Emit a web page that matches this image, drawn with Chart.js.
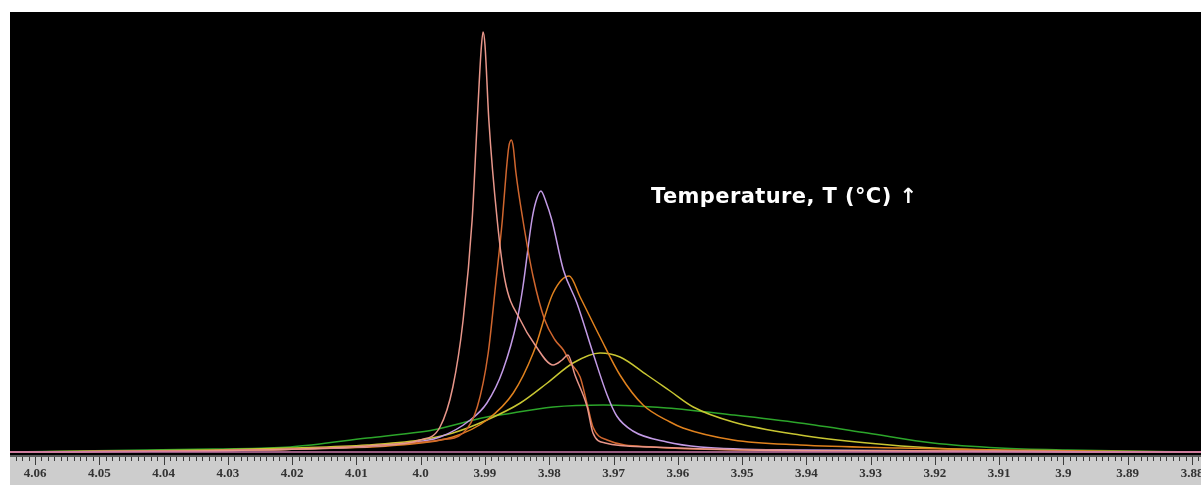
<!DOCTYPE html>
<html>
<head>
<meta charset="utf-8">
<script src="https://cdn.jsdelivr.net/npm/chart.js@4.4.1/dist/chart.umd.min.js"></script>
<style>
  html, body { margin: 0; padding: 0; background: #fff; }
  #wrap { width: 1201px; height: 485px; }
</style>
</head>
<body>
<div id="wrap"><canvas id="nmrChart" width="1201" height="485"></canvas></div>
<script>
// chemical shift axis (ppm), as printed under the spectrum
const tickLabels = ['4.06', '4.05', '4.04', '4.03', '4.02', '4.01', '4.0', '3.99', '3.98', '3.97',
                    '3.96', '3.95', '3.94', '3.93', '3.92', '3.91', '3.9', '3.89', '3.88'];
const ppmMin = 3.8786;
const ppmMax = 4.0639;

const annotation = 'Temperature, T (°C) \u2191';

// spectra at rising temperature (intensity in arbitrary units)
const ppm1 = [4.0639, 4.0188, 4.0063, 4.0001, 3.9970, 3.9950, 3.9934, 3.9920, 3.9912, 3.9906, 3.9903, 3.9900, 3.9894, 3.9881,
              3.9869, 3.9845, 3.9822, 3.9794, 3.9780, 3.9771, 3.9760, 3.9741, 3.9732, 3.9713, 3.9643, 3.9488, 3.9254, 3.8786];
const int1 = [0, 3, 7, 12, 25, 65, 132, 232, 332, 402, 420, 407, 332, 232,
              172, 132, 107, 87, 92, 97, 77, 45, 19, 9, 5, 2, 1, 0];

const ppm2 = [4.0639, 4.0188, 4.0032, 3.9970, 3.9934, 3.9912, 3.9895, 3.9883, 3.9873, 3.9867, 3.9863, 3.9859, 3.9856, 3.9852,
              3.9841, 3.9825, 3.9807, 3.9791, 3.9778, 3.9768, 3.9752, 3.9740, 3.9732, 3.9710, 3.9639, 3.9488, 3.9254, 3.8786];
const int2 = [0, 3, 8, 12, 19, 45, 99, 170, 232, 280, 305, 312, 305, 280,
              232, 175, 132, 112, 102, 90, 75, 45, 25, 12, 5, 2, 1, 0];

const ppm3 = [4.0639, 4.0188, 4.0032, 3.9970, 3.9923, 3.9897, 3.9872, 3.9850, 3.9841, 3.9827, 3.9821, 3.9813, 3.9805,
              3.9796, 3.9778, 3.9757, 3.9732, 3.9710, 3.9695, 3.9670, 3.9617, 3.9565, 3.9410, 3.8786];
const int3 = [0, 3, 8, 15, 32, 49, 82, 132, 165, 232, 250, 261, 250,
              232, 182, 149, 99, 57, 36, 21, 10, 5, 2, 0];

const ppm4 = [4.0639, 4.0188, 4.0032, 3.9950, 3.9897, 3.9856, 3.9825, 3.9794, 3.9769, 3.9752,
              3.9721, 3.9690, 3.9654, 3.9612, 3.9592, 3.9514, 3.9410, 3.9254, 3.9099, 3.8786];
const int4 = [0, 3, 7, 15, 32, 59, 99, 159, 176, 155,
              115, 77, 47, 30, 24, 12, 7, 4, 2, 0];

const ppm5 = [4.0639, 4.0323, 4.0203, 4.0083, 4.0001, 3.9950, 3.9897, 3.9845, 3.9803, 3.9763, 3.9721,
              3.9690, 3.9648, 3.9612, 3.9576, 3.9514, 3.9410, 3.9305, 3.9203, 3.9047, 3.8786];
const int5 = [0, 2, 4, 7, 12, 19, 32, 49, 69, 89, 99,
              95, 77, 61, 45, 30, 17, 9, 4, 1, 0];

const ppm6 = [4.0639, 4.0323, 4.0203, 4.0083, 4.0001, 3.9981, 3.9897, 3.9877, 3.9794, 3.9716,
              3.9617, 3.9514, 3.9410, 3.9305, 3.9203, 3.9099, 3.8994, 3.8786];
const int6 = [0, 3, 5, 14, 20, 22, 35, 37, 45, 47,
              44, 37, 29, 19, 9, 4, 2, 0];

// flat baseline trace
const ppm0 = [4.0639, 3.8786];
const int0 = [0, 0];

const colors = ['#c878aa', '#e8968a', '#d0662e', '#c39be6', '#e0821e', '#c8c632', '#2ca52a'];

function toPoints(xs, ys) {
  return xs.map((x, i) => ({ x: x, y: ys[i] }));
}

// black plot field, grey ruler, ruler tick marks and the temperature note
const spectrumFrame = {
  id: 'spectrumFrame',
  beforeDraw(chart) {
    const { ctx, chartArea: a, width, height } = chart;
    ctx.save();
    ctx.fillStyle = '#ffffff';
    ctx.fillRect(0, 0, width, height);
    ctx.fillStyle = '#000000';
    ctx.fillRect(a.left, a.top, a.right - a.left, a.bottom - a.top);
    ctx.fillStyle = '#cdcdcd';
    ctx.fillRect(a.left, a.bottom, a.right - a.left, height - a.bottom);
    ctx.fillStyle = '#5a5a5a';
    ctx.fillRect(a.left, a.bottom, a.right - a.left, 2);
    ctx.restore();
  },
  afterDraw(chart) {
    const { ctx, chartArea: a } = chart;
    const x = chart.scales.x;
    ctx.save();
    ctx.strokeStyle = '#3c3c3c';
    ctx.lineWidth = 1;
    ctx.beginPath();
    for (let k = Math.ceil(x.min * 1000); k <= Math.floor(x.max * 1000); k++) {
      const px = Math.round(x.getPixelForValue(k / 1000)) + 0.5;
      const len = k % 10 === 0 ? 8 : 4;
      ctx.moveTo(px, a.bottom + 2);
      ctx.lineTo(px, a.bottom + 2 + len);
    }
    ctx.stroke();

    ctx.fillStyle = '#ffffff';
    ctx.textBaseline = 'alphabetic';
    ctx.font = 'bold 21px "DejaVu Sans", sans-serif';
    ctx.letterSpacing = '0.4px';
    ctx.fillText(annotation, 651, 203);
    ctx.restore();
  }
};

// baseline first so it is drawn over the flat tails
const series = [
  [ppm0, int0], [ppm1, int1], [ppm2, int2], [ppm3, int3], [ppm4, int4], [ppm5, int5], [ppm6, int6]
];

const ctx = document.getElementById('nmrChart').getContext('2d');
new Chart(ctx, {
  type: 'line',
  data: {
    datasets: series.map((s, i) => ({
      data: toPoints(s[0], s[1]),
      borderColor: colors[i],
      borderWidth: 1.5,
      pointRadius: 0,
      fill: false,
      cubicInterpolationMode: 'monotone'
    }))
  },
  options: {
    responsive: false,
    animation: false,
    layout: {
      autoPadding: false,
      padding: { left: 10, top: 12, right: 0, bottom: 0 }
    },
    plugins: {
      legend: { display: false },
      tooltip: { enabled: false }
    },
    scales: {
      x: {
        type: 'linear',
        reverse: true,
        min: ppmMin,
        max: ppmMax,
        border: { display: false },
        grid: { display: false, drawTicks: false },
        afterBuildTicks: (scale) => {
          scale.ticks = tickLabels.map(l => ({ value: Number(l) }));
        },
        afterFit: (scale) => {
          scale.height = 30;
          scale.paddingLeft = 0;
          scale.paddingRight = 0;
        },
        ticks: {
          autoSkip: false,
          maxRotation: 0,
          minRotation: 0,
          padding: 11,
          color: '#333333',
          font: { family: '"Liberation Serif", serif', weight: 'bold', size: 13 },
          callback: (value) => {
            const l = tickLabels.find(t => Math.abs(Number(t) - value) < 1e-6);
            return l === undefined ? '' : l;
          }
        }
      },
      y: {
        display: false,
        min: -3,
        max: 440
      }
    }
  },
  plugins: [spectrumFrame]
});
</script>
</body>
</html>
